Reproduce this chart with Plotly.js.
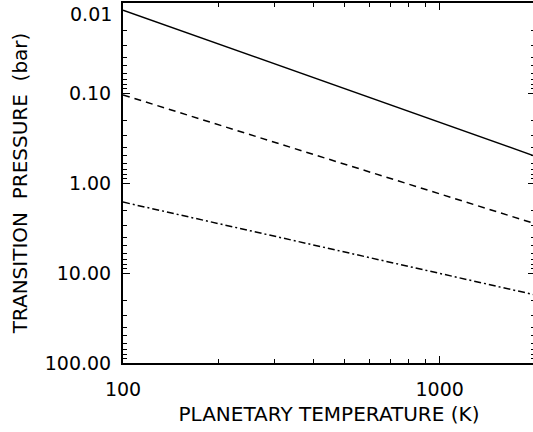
<!DOCTYPE html>
<html>
<head>
<meta charset="utf-8">
<script src="https://cdn.plot.ly/plotly-3.0.1.min.js"></script>
<style>
html,body{margin:0;padding:0;overflow:hidden;background:#fff;width:533px;height:432px;}
#chart{width:536px;height:432px;}
</style>
</head>
<body>
<div id="chart"></div>
<script>
// Planetary temperature (K)
var temperature = [100, 200, 500, 1000, 2000];
// Transition pressure (bar) for three cases
var solidP    = [0.0120, 0.0284, 0.0893, 0.212, 0.503];
var dashedP   = [0.105, 0.226, 0.618, 1.32, 2.83];
var dashdotP  = [1.63, 2.82, 5.83, 10.1, 17.5];

var yTickVals = [0.01, 0.1, 1, 10, 100];
var yTickText = ["", "0.10", "1.00", "10.00", "100.00"];
var xTickVals = [100, 1000];
var xTickText = ["100", "1000"];

var yMinor = [], xMinor = [];
for (var k = -2; k < 2; k++) for (var d = 2; d <= 9; d++) yMinor.push(d * Math.pow(10, k));
for (var k2 = 2; k2 < 4; k2++) for (var d2 = 2; d2 <= 9; d2++) xMinor.push(d2 * Math.pow(10, k2));

var lineCol = '#000';
var traces = [
  {x: temperature, y: solidP, mode: 'lines', line: {color: lineCol, width: 1.5}},
  {x: temperature, y: dashedP, mode: 'lines', line: {color: lineCol, width: 1.5, dash: '7px,5px'}},
  {x: temperature, y: dashdotP, mode: 'lines', line: {color: lineCol, width: 1.5, dash: '7px,3px,2px,3px'}}
];

var font = {family: 'DejaVu Sans, sans-serif', size: 19, color: '#000'};

var layout = {
  width: 536, height: 432,
  margin: {l: 123, r: 1, t: 3, b: 69},
  paper_bgcolor: '#fff', plot_bgcolor: '#fff',
  showlegend: false,
  font: font,
  xaxis: {
    type: 'log', range: [2, Math.log10(2000)],
    tickvals: xTickVals, ticktext: xTickText,
    ticks: 'inside', ticklen: 7, tickwidth: 1, tickcolor: '#000',
    showline: true, linecolor: '#000', linewidth: 2, mirror: 'allticks',
    showgrid: false, zeroline: false,
    ticklabelstandoff: 8,
    tickfont: font,
    minor: {tickvals: xMinor, ticks: 'inside', ticklen: 4, tickcolor: '#000', tickwidth: 1, showgrid: false},
    title: {text: 'PLANETARY TEMPERATURE (K)', font: {family: 'DejaVu Sans, sans-serif', size: 20, color: '#000'}, standoff: 8}
  },
  yaxis: {
    type: 'log', range: [2, -2],
    tickvals: yTickVals, ticktext: yTickText,
    ticks: 'inside', ticklen: 7, tickwidth: 1, tickcolor: '#000',
    showline: true, linecolor: '#000', linewidth: 2, mirror: 'allticks',
    showgrid: false, zeroline: false,
    ticklabelstandoff: 6,
    tickfont: font,
    minor: {tickvals: yMinor, ticks: 'inside', ticklen: 4, tickcolor: '#000', tickwidth: 1, showgrid: false},
    title: {text: 'TRANSITION&nbsp; PRESSURE&nbsp; (bar)', font: {family: 'DejaVu Sans, sans-serif', size: 20, color: '#000'}, standoff: 12}
  },
  annotations: [{
    xref: 'paper', yref: 'y', x: 0, y: Math.log10(yTickVals[0]),
    text: '0.01', showarrow: false, xanchor: 'right', yanchor: 'top',
    xshift: -9, yshift: 2, font: font
  }]
};

Plotly.newPlot('chart', traces, layout, {displayModeBar: false, staticPlot: true});
</script>
</body>
</html>
